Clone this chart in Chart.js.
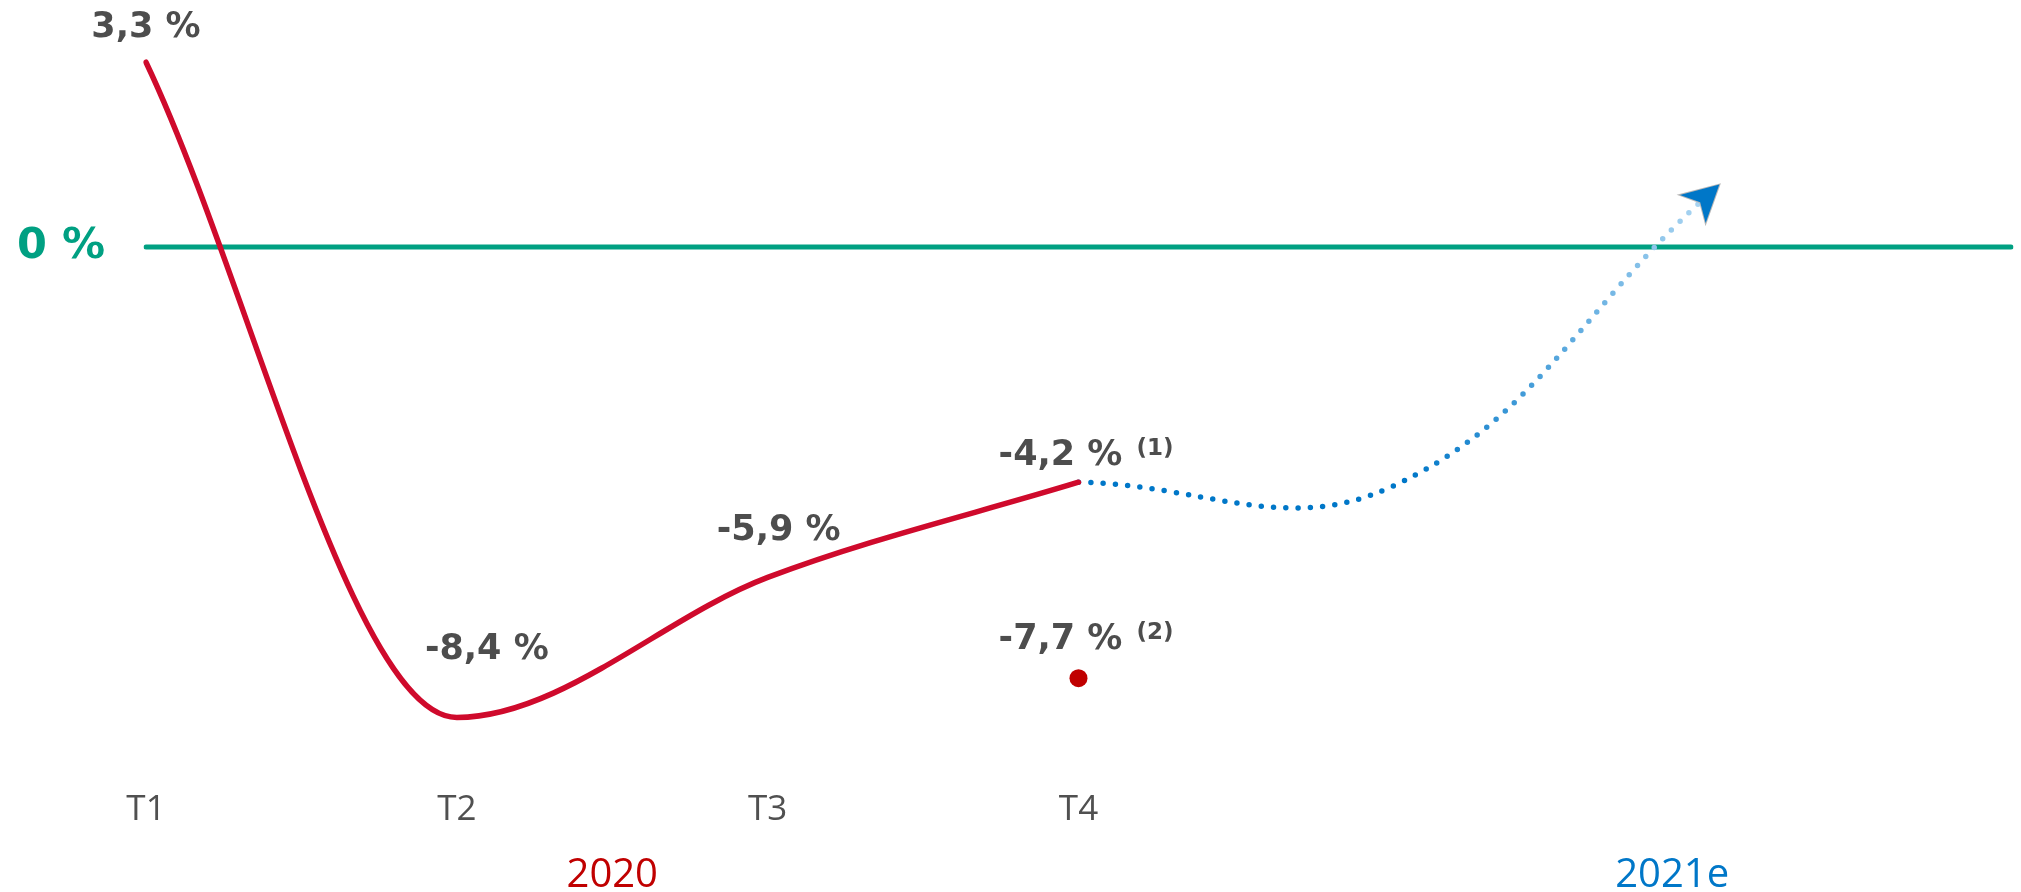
<!DOCTYPE html>
<html>
<head>
<meta charset="utf-8">
<title>PIB 2020 - 2021e</title>
<script src="https://cdn.jsdelivr.net/npm/chart.js@4.4.0/dist/chart.umd.min.js"></script>
<style>
  html, body { margin: 0; padding: 0; background: #fff; }
  #wrap { width: 2021px; height: 892px; }
</style>
</head>
<body>
<div id="wrap"><canvas id="pibChart" width="2021" height="892"></canvas></div>
<script>
// trimestres (2020 puis 2021e, sans libelle)
var quarters = ['T1', 'T2', 'T3', 'T4', '', '', ''];
// croissance du PIB 2020 (%)
var pib2020 = [3.3, -8.4, -5.9, -4.2, null, null, null];
// seconde estimation du T4
var pibT4bis = [null, null, null, -7.7, null, null, null];
// tendance 2021e
var prev2021 = [null, null, null, -4.2, -4.3, 0.8, null];
var zeroLine = [0, 0, 0, 0, 0, 0, 0];
var notes = ['', '', '', '(1)'];
var noteBis = '(2)';
var years = ['2020', '2021e'];
var yearAt = [1.5, 4.91];

var RED = '#cf0a2c', DOT = '#c00000', GREEN = '#00a082', BLUE = '#0077c8', GREY = '#4d4d4d';

// decalage des etiquettes par rapport au point (dx, dy)
var labelOff = [[0, -25], [30, -58], [11, -37], [-18, -17]];
var bisOff = [-18, -29];

function fmt(v) {
  return v.toFixed(1).replace('.', ',') + ' %';
}

function drawLabel(ctx, text, note, cx, y) {
  ctx.font = 'bold 35px "DejaVu Sans"';
  ctx.textAlign = 'center';
  ctx.fillText(text, cx, y);
  if (note) {
    var w = ctx.measureText(text).width;
    ctx.font = 'bold 23px "DejaVu Sans"';
    ctx.textAlign = 'left';
    ctx.fillText(note, cx + w / 2 + 14, y - 10);
  }
}

var valueLabels = {
  id: 'valueLabels',
  afterDatasetsDraw: function(chart) {
    var ctx = chart.ctx;
    ctx.save();
    ctx.fillStyle = GREY;
    ctx.textBaseline = 'alphabetic';
    var meta = chart.getDatasetMeta(0);
    pib2020.forEach(function(v, i) {
      if (v === null) return;
      var p = meta.data[i];
      drawLabel(ctx, fmt(v), notes[i], p.x + labelOff[i][0], p.y + labelOff[i][1]);
    });
    var meta2 = chart.getDatasetMeta(1);
    pibT4bis.forEach(function(v, i) {
      if (v === null) return;
      var p = meta2.data[i];
      drawLabel(ctx, fmt(v), noteBis, p.x + bisOff[0], p.y + bisOff[1]);
    });
    // annees sous l'axe
    var xs = chart.scales.x;
    ctx.font = '40px "Open Sans"';
    ctx.textAlign = 'center';
    years.forEach(function(t, i) {
      ctx.fillStyle = i === 0 ? DOT : BLUE;
      ctx.fillText(t, xs.getPixelForValue(yearAt[i]), 887);
    });
    ctx.restore();
  }
};

var arrowHead = {
  id: 'arrowHead',
  afterDatasetsDraw: function(chart) {
    var meta = chart.getDatasetMeta(2);
    var last = -1;
    prev2021.forEach(function(v, i) { if (v !== null) last = i; });
    var p = meta.data[last];
    var q = meta.data[last - 1];
    var dx = p.x - (p.cp1x !== undefined ? p.cp1x : q.x);
    var dy = p.y - (p.cp1y !== undefined ? p.cp1y : q.y);
    var len = Math.sqrt(dx * dx + dy * dy);
    var ux = dx / len, uy = dy / len;
    var vx = -uy, vy = ux;
    var tx = p.x + ux * 26, ty = p.y + uy * 26;
    function pt(a, b) { return [tx + ux * a + vx * b, ty + uy * a + vy * b]; }
    var w1 = pt(-36, -19), w2 = pt(-36, 19), n = pt(-26, 0);
    var ctx = chart.ctx;
    ctx.save();
    ctx.beginPath();
    ctx.moveTo(tx, ty);
    ctx.lineTo(w1[0], w1[1]);
    ctx.lineTo(n[0], n[1]);
    ctx.lineTo(w2[0], w2[1]);
    ctx.closePath();
    ctx.lineJoin = 'miter';
    ctx.lineWidth = 2;
    ctx.strokeStyle = '#b8b8b8';
    ctx.stroke();
    ctx.fillStyle = BLUE;
    ctx.fill();
    ctx.restore();
  }
};

var ctx = document.getElementById('pibChart').getContext('2d');
var chart = new Chart(ctx, {
  type: 'line',
  data: {
    labels: quarters,
    datasets: [{
      label: 'PIB 2020',
      data: pib2020,
      borderColor: RED,
      borderWidth: 5.5,
      borderCapStyle: 'round',
      cubicInterpolationMode: 'monotone',
      pointRadius: 0
    }, {
      label: 'T4 (2)',
      data: pibT4bis,
      showLine: false,
      pointRadius: 9,
      pointBorderWidth: 0,
      pointBackgroundColor: DOT
    }, {
      label: '2021e',
      data: prev2021,
      borderColor: function(c) {
        var ch = c.chart;
        if (!ch.chartArea) return BLUE;
        var xs = ch.scales.x;
        var g = ch.ctx.createLinearGradient(xs.getPixelForValue(4) + 20, 0, xs.getPixelForValue(5), 0);
        g.addColorStop(0, BLUE);
        g.addColorStop(1, '#a9d4f1');
        return g;
      },
      borderWidth: 5.5,
      borderDash: [0, 12.3],
      borderCapStyle: 'round',
      tension: 0.4,
      pointRadius: 0
    }, {
      label: '0 %',
      data: zeroLine,
      borderColor: GREEN,
      borderWidth: 5,
      borderCapStyle: 'round',
      pointRadius: 0
    }]
  },
  options: {
    responsive: false,
    devicePixelRatio: 1,
    animation: false,
    events: [],
    layout: { padding: { top: 23, right: 0, bottom: 0, left: 0 } },
    plugins: { legend: { display: false }, tooltip: { enabled: false } },
    scales: {
      x: {
        grid: { display: false, drawTicks: false },
        border: { display: false },
        afterFit: function(s) { s.height = 113; },
        ticks: {
          color: '#505050',
          font: { family: 'Open Sans', size: 35 },
          padding: 10,
          autoSkip: false,
          maxRotation: 0
        }
      },
      y: {
        min: -9.5,
        max: 4,
        grid: { display: false, drawTicks: false },
        border: { display: false },
        afterBuildTicks: function(s) { s.ticks = [{ value: 0 }]; },
        afterFit: function(s) {
          s.width = 146;
          s.paddingTop = 0;
          s.paddingBottom = 0;
        },
        ticks: {
          color: GREEN,
          font: { family: 'DejaVu Sans', size: 43, weight: 'bold' },
          padding: 41,
          callback: function(v) { return fmt(v).replace(',0', ''); }
        }
      }
    }
  },
  plugins: [valueLabels, arrowHead]
});
</script>
</body>
</html>
